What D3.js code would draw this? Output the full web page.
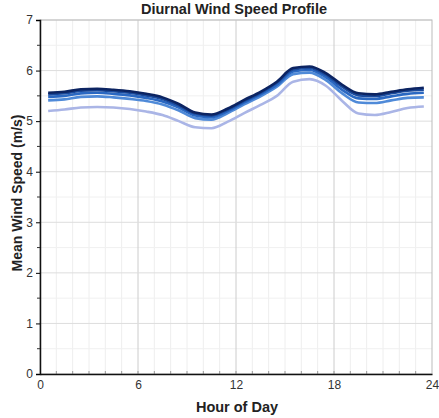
<!DOCTYPE html>
<html>
<head>
<meta charset="utf-8">
<script src="https://cdn.jsdelivr.net/npm/d3@7/dist/d3.min.js"></script>
<style>
  body { margin: 0; background: #fff; }
  svg { display: block; font-family: "Liberation Sans", Arial, sans-serif; }
</style>
</head>
<body>
<svg class="chart"></svg>
<script>
// hour of day (bin centres)
var hours = d3.range(24).map(function(h){ return h + 0.5; });

// mean wind speed by hour, one list per series (m/s)
var speed_1 = [5.56,5.58,5.63,5.64,5.62,5.59,5.54,5.47,5.34,5.17,5.13,5.25,5.42,5.58,5.78,6.05,6.08,5.95,5.72,5.55,5.53,5.58,5.63,5.66];
var speed_2 = [5.53,5.55,5.60,5.61,5.59,5.56,5.51,5.44,5.31,5.15,5.11,5.23,5.40,5.56,5.76,6.02,6.05,5.92,5.68,5.51,5.50,5.55,5.60,5.62];
var speed_3 = [5.48,5.50,5.55,5.56,5.54,5.51,5.46,5.39,5.27,5.11,5.08,5.20,5.37,5.53,5.72,5.98,6.01,5.87,5.62,5.45,5.44,5.49,5.54,5.56];
var speed_4 = [5.41,5.43,5.48,5.49,5.47,5.44,5.40,5.33,5.21,5.06,5.03,5.16,5.33,5.49,5.68,5.93,5.96,5.81,5.55,5.37,5.36,5.41,5.46,5.47];
var speed_5 = [5.20,5.23,5.27,5.28,5.27,5.24,5.19,5.12,5.00,4.88,4.86,4.99,5.16,5.32,5.50,5.78,5.83,5.70,5.40,5.15,5.12,5.18,5.26,5.29];

var series = [speed_5, speed_4, speed_3, speed_2, speed_1];
var colors = ["#aab5e6", "#4f8ad8", "#2a68c2", "#1a4a9c", "#0c2462"];

var xTicks = [0, 6, 12, 18, 24];
var yTicks = [0, 1, 2, 3, 4, 5, 6, 7];

var W = 439, H = 418;
var margin = {top: 20, right: 7, bottom: 44, left: 40};
var width = W - margin.left - margin.right;
var height = H - margin.top - margin.bottom;

var svg = d3.select(".chart").attr("width", W).attr("height", H);
var chart = svg.append("g")
	.attr("transform", "translate(" + margin.left + "," + margin.top + ")");

var x = d3.scaleLinear().domain([0, 24]).range([0, width]);
var y = d3.scaleLinear().domain([0, 7]).range([height, 0]);

// minor grid (every hour / every half unit)
chart.append("g")
	.selectAll("line")
	.data(d3.range(1, 24).filter(function(h){ return h % 6 != 0; }))
	.enter().append("line")
	.attr("x1", function(d){ return x(d); }).attr("x2", function(d){ return x(d); })
	.attr("y1", 0).attr("y2", height)
	.attr("stroke", "#eeeeee").attr("stroke-width", 1);
chart.append("g")
	.selectAll("line")
	.data(d3.range(0.5, 7, 1))
	.enter().append("line")
	.attr("x1", 0).attr("x2", width)
	.attr("y1", function(d){ return y(d); }).attr("y2", function(d){ return y(d); })
	.attr("stroke", "#f0f0f0").attr("stroke-width", 1);

// major grid
chart.append("g")
	.selectAll("line")
	.data(xTicks.slice(1, -1))
	.enter().append("line")
	.attr("x1", function(d){ return x(d); }).attr("x2", function(d){ return x(d); })
	.attr("y1", 0).attr("y2", height)
	.attr("stroke", "#cccccc").attr("stroke-width", 1);
chart.append("g")
	.selectAll("line")
	.data(yTicks.slice(1))
	.enter().append("line")
	.attr("x1", 0).attr("x2", width)
	.attr("y1", function(d){ return y(d); }).attr("y2", function(d){ return y(d); })
	.attr("stroke", "#dddddd").attr("stroke-width", 1);

// frame
chart.append("rect")
	.attr("x", 0).attr("y", 0).attr("width", width).attr("height", height)
	.attr("fill", "none").attr("stroke", "#bbbbbb");

// hourly ticks along the bottom, inside the plot
chart.append("g")
	.selectAll("line")
	.data(d3.range(1, 24))
	.enter().append("line")
	.attr("x1", function(d){ return x(d); }).attr("x2", function(d){ return x(d); })
	.attr("y1", height - 3).attr("y2", height)
	.attr("stroke", "#999");

// lines
var line = d3.line()
	.x(function(d, i){ return x(hours[i]); })
	.y(function(d){ return y(d); })
	.curve(d3.curveMonotoneX);

chart.selectAll(".series")
	.data(series)
	.enter().append("path")
	.attr("class", "series")
	.attr("d", line)
	.attr("fill", "none")
	.attr("stroke", function(d, i){ return colors[i]; })
	.attr("stroke-width", 2.6);

// axes
var xAxis = d3.axisBottom(x).tickValues(xTicks).tickFormat(d3.format("d")).tickSize(0).tickPadding(6);
var yAxis = d3.axisLeft(y).tickValues(yTicks).tickFormat(d3.format("d")).tickSize(4).tickPadding(3);

var gx = chart.append("g")
	.attr("transform", "translate(0," + height + ")")
	.call(xAxis);
gx.select(".domain").attr("stroke", "#111").attr("stroke-width", 1.5);
gx.selectAll("text").attr("font-size", 12).attr("fill", "#333");

var gy = chart.append("g").call(yAxis);
gy.select(".domain").attr("stroke", "#111").attr("stroke-width", 1.5);
gy.selectAll("text").attr("font-size", 12).attr("fill", "#333");

// minor y ticks
chart.append("g")
	.selectAll("line")
	.data(d3.range(0.5, 7, 1))
	.enter().append("line")
	.attr("x1", -3).attr("x2", 0)
	.attr("y1", function(d){ return y(d); }).attr("y2", function(d){ return y(d); })
	.attr("stroke", "#333");

// labels
svg.append("text")
	.attr("x", 234).attr("y", 14)
	.attr("text-anchor", "middle")
	.attr("font-size", 14.5).attr("font-weight", "bold").attr("fill", "#222")
	.text("Diurnal Wind Speed Profile");

svg.append("text")
	.attr("x", 237).attr("y", 412)
	.attr("text-anchor", "middle")
	.attr("font-size", 14.5).attr("font-weight", "bold").attr("fill", "#222")
	.text("Hour of Day");

svg.append("text")
	.attr("transform", "translate(22,193) rotate(-90)")
	.attr("text-anchor", "middle")
	.attr("font-size", 14).attr("font-weight", "bold").attr("fill", "#222")
	.text("Mean Wind Speed (m/s)");
</script>
</body>
</html>
